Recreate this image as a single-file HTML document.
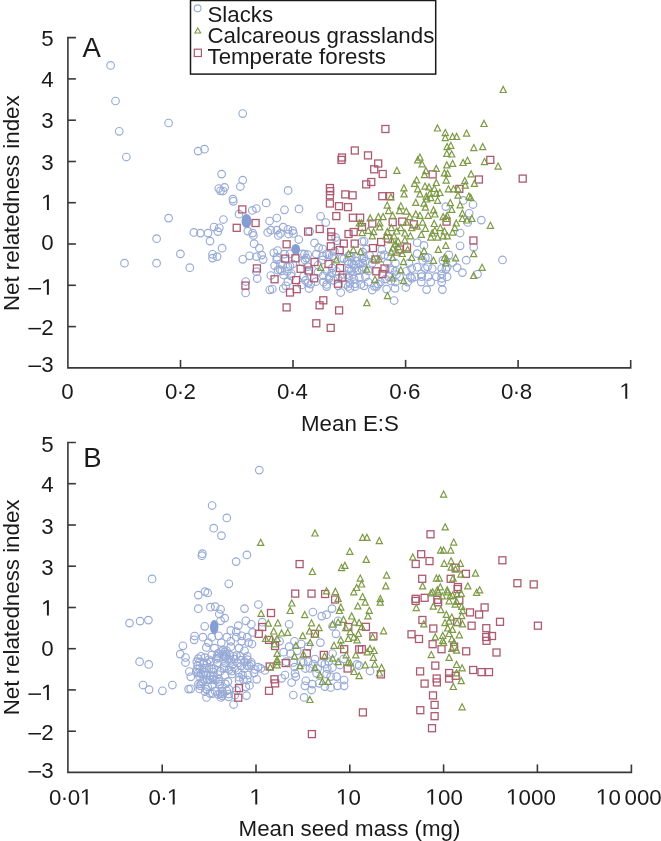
<!DOCTYPE html>
<html><head><meta charset="utf-8"><style>
html,body{margin:0;padding:0;background:#fff;}
svg{display:block;will-change:transform;filter:blur(0.4px);}
text{font-family:"Liberation Sans",sans-serif;font-size:22.3px;fill:#1a1a1a;}
.lg text{font-size:22.3px;}
</style></head><body>
<svg width="661" height="841" viewBox="0 0 661 841">
<g fill="none" stroke="#97a9d6" stroke-width="1.15">
<circle cx="110.6" cy="65.4" r="3.8"/><circle cx="115.5" cy="101.0" r="3.8"/><circle cx="119.2" cy="131.3" r="3.8"/><circle cx="126.3" cy="157.0" r="3.8"/><circle cx="168.6" cy="123.0" r="3.8"/><circle cx="242.7" cy="113.6" r="3.8"/><circle cx="198.1" cy="151.1" r="3.8"/><circle cx="204.5" cy="149.2" r="3.8"/><circle cx="221.6" cy="174.1" r="3.8"/><circle cx="218.8" cy="188.5" r="3.8"/><circle cx="224.6" cy="187.4" r="3.8"/><circle cx="242.7" cy="180.2" r="3.8"/><circle cx="240.3" cy="186.5" r="3.8"/><circle cx="232.9" cy="199.1" r="3.8"/><circle cx="168.6" cy="218.1" r="3.8"/><circle cx="156.6" cy="238.7" r="3.8"/><circle cx="180.4" cy="253.9" r="3.8"/><circle cx="124.5" cy="263.2" r="3.8"/><circle cx="156.6" cy="263.2" r="3.8"/><circle cx="189.8" cy="267.7" r="3.8"/><circle cx="220.5" cy="190.8" r="3.8"/><circle cx="223.0" cy="191.0" r="3.8"/><circle cx="233.3" cy="201.3" r="3.8"/><circle cx="266.2" cy="202.9" r="3.8"/><circle cx="256.4" cy="208.5" r="3.8"/><circle cx="252.3" cy="210.4" r="3.8"/><circle cx="239.0" cy="214.2" r="3.8"/><circle cx="223.4" cy="219.5" r="3.8"/><circle cx="269.6" cy="221.0" r="3.8"/><circle cx="276.8" cy="218.0" r="3.8"/><circle cx="214.0" cy="227.0" r="3.8"/><circle cx="219.3" cy="227.8" r="3.8"/><circle cx="217.8" cy="231.6" r="3.8"/><circle cx="193.9" cy="232.4" r="3.8"/><circle cx="200.4" cy="233.1" r="3.8"/><circle cx="208.0" cy="233.1" r="3.8"/><circle cx="210.0" cy="241.1" r="3.8"/><circle cx="247.8" cy="231.1" r="3.8"/><circle cx="252.6" cy="233.1" r="3.8"/><circle cx="253.4" cy="235.4" r="3.8"/><circle cx="270.8" cy="230.1" r="3.8"/><circle cx="267.7" cy="232.4" r="3.8"/><circle cx="276.8" cy="230.1" r="3.8"/><circle cx="278.3" cy="235.4" r="3.8"/><circle cx="254.1" cy="243.7" r="3.8"/><circle cx="259.4" cy="248.2" r="3.8"/><circle cx="222.1" cy="248.2" r="3.8"/><circle cx="212.5" cy="254.3" r="3.8"/><circle cx="217.1" cy="256.6" r="3.8"/><circle cx="212.5" cy="258.1" r="3.8"/><circle cx="242.8" cy="259.3" r="3.8"/><circle cx="249.6" cy="255.8" r="3.8"/><circle cx="256.4" cy="256.6" r="3.8"/><circle cx="261.7" cy="255.1" r="3.8"/><circle cx="263.2" cy="259.6" r="3.8"/><circle cx="273.8" cy="252.8" r="3.8"/><circle cx="277.6" cy="250.5" r="3.8"/><circle cx="276.8" cy="259.6" r="3.8"/><circle cx="274.6" cy="265.6" r="3.8"/><circle cx="256.4" cy="271.7" r="3.8"/><circle cx="257.2" cy="278.5" r="3.8"/><circle cx="270.8" cy="275.5" r="3.8"/><circle cx="278.0" cy="270.2" r="3.8"/><circle cx="245.8" cy="281.5" r="3.8"/><circle cx="272.3" cy="289.0" r="3.8"/><circle cx="245.6" cy="292.9" r="3.8"/><circle cx="269.8" cy="289.8" r="3.8"/><circle cx="288.1" cy="190.4" r="3.8"/><circle cx="284.5" cy="209.8" r="3.8"/><circle cx="299.0" cy="208.9" r="3.8"/><circle cx="320.6" cy="216.3" r="3.8"/><circle cx="325.7" cy="222.5" r="3.8"/><circle cx="283.2" cy="227.2" r="3.8"/><circle cx="287.9" cy="229.3" r="3.8"/><circle cx="292.7" cy="230.6" r="3.8"/><circle cx="280.4" cy="233.4" r="3.8"/><circle cx="288.6" cy="234.0" r="3.8"/><circle cx="293.4" cy="233.4" r="3.8"/><circle cx="309.7" cy="231.3" r="3.8"/><circle cx="298.8" cy="239.5" r="3.8"/><circle cx="314.5" cy="242.9" r="3.8"/><circle cx="335.6" cy="237.4" r="3.8"/><circle cx="337.0" cy="240.8" r="3.8"/><circle cx="362.1" cy="241.5" r="3.8"/><circle cx="318.6" cy="247.7" r="3.8"/><circle cx="322.7" cy="249.0" r="3.8"/><circle cx="302.2" cy="253.8" r="3.8"/><circle cx="307.7" cy="254.5" r="3.8"/><circle cx="326.7" cy="253.8" r="3.8"/><circle cx="332.2" cy="255.8" r="3.8"/><circle cx="277.0" cy="257.2" r="3.8"/><circle cx="290.0" cy="253.8" r="3.8"/><circle cx="305.0" cy="259.9" r="3.8"/><circle cx="322.7" cy="259.9" r="3.8"/><circle cx="343.8" cy="258.6" r="3.8"/><circle cx="351.3" cy="257.2" r="3.8"/><circle cx="356.7" cy="257.2" r="3.8"/><circle cx="362.1" cy="258.6" r="3.8"/><circle cx="280.4" cy="264.0" r="3.8"/><circle cx="287.9" cy="266.7" r="3.8"/><circle cx="292.7" cy="264.0" r="3.8"/><circle cx="307.7" cy="266.7" r="3.8"/><circle cx="326.7" cy="270.8" r="3.8"/><circle cx="332.2" cy="268.1" r="3.8"/><circle cx="348.5" cy="264.0" r="3.8"/><circle cx="354.0" cy="265.4" r="3.8"/><circle cx="359.4" cy="264.0" r="3.8"/><circle cx="351.3" cy="270.8" r="3.8"/><circle cx="356.7" cy="270.8" r="3.8"/><circle cx="362.1" cy="269.4" r="3.8"/><circle cx="281.8" cy="270.8" r="3.8"/><circle cx="291.3" cy="273.5" r="3.8"/><circle cx="303.6" cy="276.3" r="3.8"/><circle cx="323.3" cy="275.6" r="3.8"/><circle cx="329.5" cy="276.3" r="3.8"/><circle cx="333.6" cy="280.3" r="3.8"/><circle cx="348.5" cy="277.6" r="3.8"/><circle cx="354.0" cy="279.0" r="3.8"/><circle cx="359.4" cy="277.6" r="3.8"/><circle cx="287.9" cy="281.7" r="3.8"/><circle cx="307.7" cy="283.1" r="3.8"/><circle cx="315.8" cy="281.7" r="3.8"/><circle cx="326.7" cy="284.4" r="3.8"/><circle cx="345.8" cy="284.4" r="3.8"/><circle cx="355.3" cy="283.7" r="3.8"/><circle cx="360.8" cy="284.4" r="3.8"/><circle cx="283.2" cy="288.5" r="3.8"/><circle cx="309.0" cy="288.5" r="3.8"/><circle cx="349.9" cy="288.5" r="3.8"/><circle cx="364.1" cy="241.3" r="3.8"/><circle cx="417.2" cy="242.7" r="3.8"/><circle cx="424.0" cy="245.4" r="3.8"/><circle cx="445.8" cy="206.6" r="3.8"/><circle cx="362.7" cy="252.2" r="3.8"/><circle cx="381.8" cy="249.5" r="3.8"/><circle cx="364.1" cy="257.6" r="3.8"/><circle cx="369.5" cy="254.9" r="3.8"/><circle cx="384.5" cy="254.9" r="3.8"/><circle cx="417.2" cy="253.6" r="3.8"/><circle cx="428.1" cy="257.6" r="3.8"/><circle cx="422.6" cy="260.4" r="3.8"/><circle cx="362.7" cy="263.1" r="3.8"/><circle cx="372.3" cy="263.1" r="3.8"/><circle cx="387.2" cy="263.1" r="3.8"/><circle cx="395.4" cy="263.1" r="3.8"/><circle cx="409.0" cy="263.1" r="3.8"/><circle cx="417.2" cy="267.2" r="3.8"/><circle cx="425.4" cy="268.5" r="3.8"/><circle cx="432.2" cy="268.5" r="3.8"/><circle cx="441.7" cy="268.5" r="3.8"/><circle cx="447.1" cy="267.2" r="3.8"/><circle cx="390.0" cy="268.5" r="3.8"/><circle cx="395.4" cy="271.3" r="3.8"/><circle cx="406.3" cy="271.3" r="3.8"/><circle cx="411.7" cy="268.5" r="3.8"/><circle cx="421.3" cy="274.0" r="3.8"/><circle cx="428.1" cy="276.7" r="3.8"/><circle cx="436.3" cy="276.7" r="3.8"/><circle cx="441.7" cy="274.0" r="3.8"/><circle cx="447.1" cy="276.7" r="3.8"/><circle cx="365.4" cy="276.7" r="3.8"/><circle cx="388.6" cy="276.7" r="3.8"/><circle cx="399.5" cy="276.7" r="3.8"/><circle cx="410.4" cy="276.7" r="3.8"/><circle cx="368.2" cy="282.1" r="3.8"/><circle cx="380.4" cy="282.1" r="3.8"/><circle cx="395.4" cy="282.1" r="3.8"/><circle cx="407.7" cy="282.1" r="3.8"/><circle cx="421.3" cy="282.1" r="3.8"/><circle cx="430.8" cy="282.1" r="3.8"/><circle cx="441.7" cy="282.1" r="3.8"/><circle cx="463.2" cy="200.4" r="3.8"/><circle cx="473.0" cy="204.5" r="3.8"/><circle cx="469.2" cy="213.3" r="3.8"/><circle cx="467.7" cy="222.4" r="3.8"/><circle cx="481.3" cy="220.1" r="3.8"/><circle cx="460.1" cy="233.0" r="3.8"/><circle cx="460.1" cy="245.8" r="3.8"/><circle cx="473.7" cy="247.3" r="3.8"/><circle cx="466.2" cy="260.2" r="3.8"/><circle cx="502.5" cy="259.9" r="3.8"/><circle cx="448.8" cy="254.9" r="3.8"/><circle cx="452.6" cy="262.5" r="3.8"/><circle cx="457.1" cy="267.7" r="3.8"/><circle cx="462.4" cy="272.6" r="3.8"/><circle cx="477.5" cy="274.1" r="3.8"/><circle cx="445.8" cy="269.3" r="3.8"/><circle cx="285.8" cy="285.8" r="3.8"/><circle cx="310.8" cy="284.1" r="3.8"/><circle cx="326.6" cy="286.6" r="3.8"/><circle cx="340.7" cy="292.5" r="3.8"/><circle cx="354.9" cy="286.6" r="3.8"/><circle cx="364.0" cy="285.8" r="3.8"/><circle cx="372.3" cy="290.0" r="3.8"/><circle cx="376.5" cy="286.6" r="3.8"/><circle cx="349.9" cy="283.3" r="3.8"/><circle cx="386.6" cy="289.1" r="3.8"/><circle cx="395.0" cy="288.3" r="3.8"/><circle cx="405.8" cy="287.5" r="3.8"/><circle cx="394.1" cy="300.5" r="3.8"/><circle cx="426.6" cy="289.6" r="3.8"/><circle cx="442.4" cy="289.6" r="3.8"/><circle cx="421.6" cy="276.7" r="3.8"/><circle cx="441.6" cy="278.3" r="3.8"/><circle cx="411.6" cy="278.3" r="3.8"/><circle cx="378.3" cy="284.1" r="3.8"/><circle cx="304.5" cy="254.1" r="3.8"/><circle cx="306.3" cy="258.1" r="3.8"/><circle cx="302.7" cy="262.2" r="3.8"/><circle cx="316.3" cy="254.1" r="3.8"/><circle cx="322.7" cy="255.9" r="3.8"/><circle cx="329.0" cy="255.0" r="3.8"/><circle cx="334.5" cy="257.7" r="3.8"/><circle cx="282.7" cy="265.0" r="3.8"/><circle cx="290.0" cy="265.9" r="3.8"/><circle cx="287.3" cy="271.3" r="3.8"/><circle cx="283.6" cy="275.0" r="3.8"/><circle cx="290.9" cy="275.9" r="3.8"/><circle cx="305.4" cy="280.4" r="3.8"/><circle cx="308.1" cy="272.2" r="3.8"/><circle cx="318.1" cy="272.2" r="3.8"/><circle cx="331.7" cy="273.1" r="3.8"/><circle cx="336.3" cy="271.3" r="3.8"/><circle cx="323.6" cy="282.2" r="3.8"/><circle cx="329.0" cy="278.6" r="3.8"/><circle cx="301.8" cy="284.9" r="3.8"/><circle cx="338.1" cy="278.6" r="3.8"/><circle cx="338.1" cy="285.8" r="3.8"/><circle cx="280.0" cy="269.5" r="3.8"/><circle cx="284.5" cy="254.1" r="3.8"/><circle cx="318.1" cy="265.0" r="3.8"/><circle cx="334.5" cy="251.4" r="3.8"/><circle cx="347.3" cy="260.9" r="3.8"/><circle cx="351.8" cy="263.6" r="3.8"/><circle cx="356.4" cy="260.9" r="3.8"/><circle cx="365.5" cy="260.9" r="3.8"/><circle cx="349.1" cy="269.1" r="3.8"/><circle cx="354.5" cy="268.2" r="3.8"/><circle cx="359.1" cy="270.0" r="3.8"/><circle cx="363.6" cy="267.3" r="3.8"/><circle cx="368.2" cy="270.9" r="3.8"/><circle cx="347.3" cy="274.5" r="3.8"/><circle cx="352.7" cy="274.5" r="3.8"/><circle cx="348.2" cy="286.4" r="3.8"/><circle cx="374.5" cy="286.4" r="3.8"/><circle cx="390.9" cy="280.9" r="3.8"/><circle cx="385.5" cy="279.1" r="3.8"/><circle cx="380.9" cy="255.5" r="3.8"/><circle cx="388.2" cy="256.4" r="3.8"/><circle cx="392.7" cy="270.0" r="3.8"/><circle cx="396.4" cy="274.5" r="3.8"/><circle cx="366.4" cy="249.1" r="3.8"/><circle cx="349.1" cy="255.5" r="3.8"/><circle cx="341.8" cy="258.2" r="3.8"/><circle cx="342.7" cy="274.5" r="3.8"/><circle cx="442.9" cy="260.4" r="3.8"/><circle cx="427.5" cy="266.8" r="3.8"/><circle cx="414.8" cy="276.8" r="3.8"/><circle cx="425.4" cy="257.8" r="3.8"/><circle cx="212.1" cy="505.5" r="3.8"/><circle cx="226.8" cy="517.9" r="3.8"/><circle cx="213.7" cy="528.2" r="3.8"/><circle cx="221.5" cy="535.6" r="3.8"/><circle cx="202.3" cy="553.7" r="3.8"/><circle cx="201.9" cy="555.7" r="3.8"/><circle cx="152.1" cy="578.9" r="3.8"/><circle cx="228.8" cy="583.8" r="3.8"/><circle cx="259.3" cy="470.1" r="3.8"/><circle cx="246.9" cy="554.9" r="3.8"/><circle cx="236.1" cy="561.6" r="3.8"/><circle cx="210.2" cy="675.8" r="3.8"/><circle cx="217.8" cy="674.5" r="3.8"/><circle cx="206.0" cy="675.2" r="3.8"/><circle cx="213.1" cy="679.1" r="3.8"/><circle cx="204.5" cy="672.2" r="3.8"/><circle cx="204.5" cy="679.3" r="3.8"/><circle cx="214.1" cy="668.6" r="3.8"/><circle cx="218.7" cy="681.5" r="3.8"/><circle cx="213.5" cy="676.6" r="3.8"/><circle cx="205.5" cy="668.2" r="3.8"/><circle cx="211.5" cy="668.8" r="3.8"/><circle cx="203.5" cy="674.5" r="3.8"/><circle cx="210.0" cy="679.8" r="3.8"/><circle cx="129.5" cy="623.1" r="3.8"/><circle cx="140.1" cy="621.1" r="3.8"/><circle cx="148.4" cy="620.1" r="3.8"/><circle cx="198.3" cy="595.1" r="3.8"/><circle cx="198.3" cy="608.7" r="3.8"/><circle cx="194.6" cy="636.0" r="3.8"/><circle cx="194.1" cy="639.8" r="3.8"/><circle cx="182.9" cy="645.8" r="3.8"/><circle cx="180.2" cy="654.1" r="3.8"/><circle cx="185.5" cy="657.5" r="3.8"/><circle cx="185.5" cy="662.5" r="3.8"/><circle cx="139.6" cy="661.7" r="3.8"/><circle cx="148.7" cy="664.4" r="3.8"/><circle cx="189.3" cy="671.5" r="3.8"/><circle cx="198.3" cy="658.7" r="3.8"/><circle cx="196.8" cy="669.3" r="3.8"/><circle cx="190.8" cy="676.8" r="3.8"/><circle cx="205.0" cy="591.6" r="3.8"/><circle cx="207.7" cy="592.9" r="3.8"/><circle cx="210.4" cy="607.2" r="3.8"/><circle cx="215.2" cy="606.6" r="3.8"/><circle cx="220.6" cy="609.3" r="3.8"/><circle cx="219.3" cy="614.0" r="3.8"/><circle cx="224.7" cy="618.1" r="3.8"/><circle cx="220.6" cy="620.8" r="3.8"/><circle cx="244.5" cy="608.6" r="3.8"/><circle cx="258.4" cy="604.5" r="3.8"/><circle cx="262.2" cy="622.2" r="3.8"/><circle cx="245.8" cy="620.8" r="3.8"/><circle cx="251.3" cy="624.3" r="3.8"/><circle cx="238.3" cy="625.6" r="3.8"/><circle cx="204.7" cy="626.3" r="3.8"/><circle cx="230.8" cy="630.4" r="3.8"/><circle cx="236.3" cy="631.7" r="3.8"/><circle cx="252.6" cy="632.4" r="3.8"/><circle cx="202.9" cy="637.2" r="3.8"/><circle cx="211.8" cy="637.2" r="3.8"/><circle cx="218.6" cy="635.8" r="3.8"/><circle cx="226.8" cy="637.2" r="3.8"/><circle cx="236.3" cy="637.2" r="3.8"/><circle cx="241.7" cy="635.8" r="3.8"/><circle cx="247.2" cy="637.2" r="3.8"/><circle cx="208.4" cy="642.6" r="3.8"/><circle cx="221.3" cy="642.6" r="3.8"/><circle cx="230.8" cy="641.3" r="3.8"/><circle cx="241.7" cy="641.3" r="3.8"/><circle cx="248.6" cy="642.6" r="3.8"/><circle cx="206.3" cy="647.4" r="3.8"/><circle cx="214.5" cy="648.1" r="3.8"/><circle cx="230.8" cy="646.7" r="3.8"/><circle cx="239.0" cy="648.1" r="3.8"/><circle cx="244.5" cy="650.8" r="3.8"/><circle cx="200.9" cy="656.3" r="3.8"/><circle cx="211.8" cy="654.9" r="3.8"/><circle cx="217.2" cy="656.3" r="3.8"/><circle cx="233.6" cy="656.3" r="3.8"/><circle cx="240.4" cy="656.3" r="3.8"/><circle cx="247.2" cy="656.3" r="3.8"/><circle cx="196.8" cy="661.7" r="3.8"/><circle cx="203.6" cy="663.1" r="3.8"/><circle cx="210.4" cy="661.7" r="3.8"/><circle cx="217.2" cy="663.1" r="3.8"/><circle cx="225.4" cy="663.1" r="3.8"/><circle cx="230.8" cy="660.3" r="3.8"/><circle cx="237.7" cy="663.1" r="3.8"/><circle cx="244.5" cy="661.7" r="3.8"/><circle cx="251.3" cy="664.4" r="3.8"/><circle cx="258.1" cy="667.1" r="3.8"/><circle cx="199.5" cy="668.5" r="3.8"/><circle cx="209.1" cy="668.5" r="3.8"/><circle cx="224.0" cy="668.5" r="3.8"/><circle cx="234.9" cy="668.5" r="3.8"/><circle cx="244.5" cy="668.5" r="3.8"/><circle cx="252.0" cy="644.0" r="3.8"/><circle cx="223.0" cy="650.0" r="3.8"/><circle cx="224.5" cy="652.0" r="3.8"/><circle cx="226.0" cy="654.0" r="3.8"/><circle cx="224.0" cy="656.0" r="3.8"/><circle cx="226.5" cy="650.5" r="3.8"/><circle cx="222.5" cy="654.5" r="3.8"/><circle cx="225.5" cy="657.5" r="3.8"/><circle cx="221.5" cy="651.5" r="3.8"/><circle cx="143.0" cy="685.0" r="3.8"/><circle cx="149.1" cy="689.6" r="3.8"/><circle cx="162.4" cy="690.8" r="3.8"/><circle cx="172.4" cy="685.0" r="3.8"/><circle cx="188.6" cy="689.1" r="3.8"/><circle cx="206.5" cy="697.4" r="3.8"/><circle cx="209.9" cy="693.3" r="3.8"/><circle cx="222.3" cy="695.8" r="3.8"/><circle cx="190.7" cy="688.8" r="3.8"/><circle cx="212.5" cy="693.6" r="3.8"/><circle cx="233.6" cy="704.5" r="3.8"/><circle cx="246.5" cy="695.6" r="3.8"/><circle cx="245.8" cy="686.8" r="3.8"/><circle cx="256.7" cy="679.3" r="3.8"/><circle cx="260.8" cy="668.4" r="3.8"/><circle cx="264.9" cy="670.4" r="3.8"/><circle cx="251.3" cy="662.3" r="3.8"/><circle cx="202.3" cy="681.3" r="3.8"/><circle cx="207.7" cy="686.8" r="3.8"/><circle cx="226.8" cy="690.8" r="3.8"/><circle cx="254.0" cy="673.1" r="3.8"/><circle cx="247.2" cy="680.0" r="3.8"/><circle cx="239.0" cy="677.2" r="3.8"/><circle cx="216.1" cy="659.2" r="3.8"/><circle cx="236.4" cy="655.5" r="3.8"/><circle cx="229.2" cy="669.6" r="3.8"/><circle cx="199.6" cy="676.4" r="3.8"/><circle cx="198.3" cy="672.8" r="3.8"/><circle cx="222.3" cy="691.7" r="3.8"/><circle cx="231.8" cy="671.0" r="3.8"/><circle cx="249.2" cy="665.9" r="3.8"/><circle cx="204.9" cy="657.7" r="3.8"/><circle cx="215.1" cy="691.2" r="3.8"/><circle cx="207.2" cy="679.9" r="3.8"/><circle cx="230.0" cy="655.0" r="3.8"/><circle cx="199.7" cy="661.9" r="3.8"/><circle cx="238.2" cy="672.5" r="3.8"/><circle cx="215.5" cy="680.1" r="3.8"/><circle cx="224.1" cy="666.4" r="3.8"/><circle cx="228.6" cy="694.0" r="3.8"/><circle cx="241.2" cy="665.8" r="3.8"/><circle cx="221.9" cy="688.3" r="3.8"/><circle cx="198.4" cy="684.1" r="3.8"/><circle cx="243.4" cy="679.5" r="3.8"/><circle cx="239.1" cy="680.5" r="3.8"/><circle cx="232.0" cy="673.9" r="3.8"/><circle cx="225.4" cy="683.9" r="3.8"/><circle cx="199.8" cy="685.7" r="3.8"/><circle cx="247.0" cy="665.7" r="3.8"/><circle cx="219.9" cy="684.1" r="3.8"/><circle cx="199.7" cy="688.9" r="3.8"/><circle cx="220.2" cy="693.8" r="3.8"/><circle cx="201.0" cy="673.6" r="3.8"/><circle cx="213.3" cy="671.9" r="3.8"/><circle cx="218.2" cy="694.4" r="3.8"/><circle cx="206.9" cy="663.1" r="3.8"/><circle cx="232.5" cy="664.6" r="3.8"/><circle cx="196.3" cy="672.1" r="3.8"/><circle cx="218.9" cy="679.2" r="3.8"/><circle cx="228.0" cy="681.6" r="3.8"/><circle cx="220.3" cy="671.2" r="3.8"/><circle cx="208.9" cy="659.8" r="3.8"/><circle cx="202.3" cy="669.5" r="3.8"/><circle cx="234.1" cy="659.1" r="3.8"/><circle cx="218.6" cy="657.9" r="3.8"/><circle cx="224.9" cy="675.2" r="3.8"/><circle cx="247.4" cy="659.7" r="3.8"/><circle cx="228.8" cy="659.0" r="3.8"/><circle cx="249.5" cy="685.4" r="3.8"/><circle cx="206.4" cy="689.1" r="3.8"/><circle cx="229.0" cy="689.4" r="3.8"/><circle cx="218.0" cy="653.4" r="3.8"/><circle cx="197.7" cy="665.4" r="3.8"/><circle cx="212.1" cy="685.2" r="3.8"/><circle cx="255.2" cy="669.5" r="3.8"/><circle cx="234.7" cy="695.2" r="3.8"/><circle cx="248.1" cy="675.0" r="3.8"/><circle cx="236.5" cy="690.4" r="3.8"/><circle cx="201.3" cy="683.7" r="3.8"/><circle cx="242.5" cy="674.9" r="3.8"/><circle cx="220.9" cy="697.4" r="3.8"/><circle cx="240.9" cy="660.2" r="3.8"/><circle cx="205.1" cy="691.7" r="3.8"/><circle cx="228.6" cy="696.8" r="3.8"/><circle cx="222.9" cy="693.8" r="3.8"/><circle cx="312.9" cy="612.0" r="3.8"/><circle cx="321.7" cy="616.1" r="3.8"/><circle cx="326.5" cy="614.7" r="3.8"/><circle cx="332.0" cy="608.6" r="3.8"/><circle cx="289.1" cy="624.3" r="3.8"/><circle cx="332.6" cy="626.3" r="3.8"/><circle cx="338.1" cy="620.8" r="3.8"/><circle cx="336.0" cy="633.8" r="3.8"/><circle cx="279.5" cy="641.3" r="3.8"/><circle cx="294.5" cy="641.3" r="3.8"/><circle cx="301.3" cy="644.0" r="3.8"/><circle cx="320.4" cy="642.6" r="3.8"/><circle cx="289.1" cy="646.7" r="3.8"/><circle cx="283.6" cy="652.2" r="3.8"/><circle cx="290.4" cy="653.5" r="3.8"/><circle cx="297.2" cy="650.8" r="3.8"/><circle cx="308.1" cy="646.7" r="3.8"/><circle cx="332.6" cy="653.5" r="3.8"/><circle cx="343.5" cy="659.0" r="3.8"/><circle cx="286.3" cy="661.7" r="3.8"/><circle cx="301.3" cy="661.7" r="3.8"/><circle cx="308.1" cy="661.7" r="3.8"/><circle cx="314.9" cy="659.0" r="3.8"/><circle cx="321.7" cy="663.1" r="3.8"/><circle cx="328.6" cy="661.7" r="3.8"/><circle cx="357.1" cy="664.4" r="3.8"/><circle cx="294.5" cy="667.1" r="3.8"/><circle cx="305.4" cy="668.5" r="3.8"/><circle cx="317.7" cy="668.5" r="3.8"/><circle cx="327.2" cy="668.5" r="3.8"/><circle cx="359.1" cy="665.6" r="3.8"/><circle cx="370.0" cy="671.0" r="3.8"/><circle cx="293.3" cy="695.0" r="3.8"/><circle cx="304.1" cy="697.4" r="3.8"/><circle cx="291.6" cy="682.5" r="3.8"/><circle cx="304.9" cy="685.8" r="3.8"/><circle cx="311.6" cy="690.0" r="3.8"/><circle cx="312.4" cy="684.1" r="3.8"/><circle cx="319.1" cy="683.3" r="3.8"/><circle cx="324.9" cy="686.6" r="3.8"/><circle cx="330.7" cy="687.5" r="3.8"/><circle cx="337.4" cy="685.8" r="3.8"/><circle cx="344.1" cy="685.8" r="3.8"/><circle cx="344.1" cy="680.0" r="3.8"/><circle cx="336.6" cy="676.6" r="3.8"/><circle cx="330.7" cy="676.6" r="3.8"/><circle cx="326.6" cy="674.1" r="3.8"/><circle cx="316.6" cy="673.3" r="3.8"/><circle cx="309.9" cy="668.3" r="3.8"/><circle cx="295.0" cy="673.3" r="3.8"/><circle cx="295.8" cy="676.6" r="3.8"/><circle cx="285.0" cy="675.0" r="3.8"/><circle cx="281.6" cy="678.3" r="3.8"/><circle cx="305.8" cy="680.8" r="3.8"/><circle cx="332.4" cy="667.5" r="3.8"/><circle cx="324.9" cy="664.2" r="3.8"/><circle cx="313.3" cy="664.2" r="3.8"/><circle cx="303.3" cy="662.5" r="3.8"/><circle cx="293.3" cy="662.5" r="3.8"/><circle cx="339.9" cy="665.0" r="3.8"/>
</g>
<g fill="#849dd2" stroke="none">
<ellipse cx="246.5" cy="221" rx="5" ry="7"/><ellipse cx="295.7" cy="249.3" rx="4.4" ry="5.2"/><ellipse cx="214.2" cy="627.1" rx="4.3" ry="7.0"/>
</g>
<g fill="none" stroke="#ad5a70" stroke-width="1.3">
<rect x="238.8" y="205.9" width="7.0" height="7.0"/><rect x="233.2" y="224.3" width="7.0" height="7.0"/><rect x="252.1" y="219.5" width="7.0" height="7.0"/><rect x="253.4" y="264.9" width="7.0" height="7.0"/><rect x="271.1" y="275.8" width="7.0" height="7.0"/><rect x="241.9" y="282.1" width="7.0" height="7.0"/><rect x="338.0" y="156.4" width="7.0" height="7.0"/><rect x="326.7" y="187.7" width="7.0" height="7.0"/><rect x="351.3" y="147.0" width="7.0" height="7.0"/><rect x="338.5" y="154.0" width="7.0" height="7.0"/><rect x="364.5" y="151.9" width="7.0" height="7.0"/><rect x="326.4" y="184.5" width="7.0" height="7.0"/><rect x="326.4" y="191.8" width="7.0" height="7.0"/><rect x="326.4" y="200.0" width="7.0" height="7.0"/><rect x="341.8" y="190.9" width="7.0" height="7.0"/><rect x="349.1" y="191.8" width="7.0" height="7.0"/><rect x="335.5" y="202.7" width="7.0" height="7.0"/><rect x="344.5" y="203.6" width="7.0" height="7.0"/><rect x="362.7" y="180.9" width="7.0" height="7.0"/><rect x="381.9" y="125.5" width="7.0" height="7.0"/><rect x="374.7" y="160.0" width="7.0" height="7.0"/><rect x="370.7" y="165.8" width="7.0" height="7.0"/><rect x="379.2" y="170.5" width="7.0" height="7.0"/><rect x="367.8" y="178.5" width="7.0" height="7.0"/><rect x="378.8" y="192.7" width="7.0" height="7.0"/><rect x="386.5" y="192.7" width="7.0" height="7.0"/><rect x="429.1" y="170.9" width="7.0" height="7.0"/><rect x="455.8" y="185.4" width="7.0" height="7.0"/><rect x="475.4" y="176.0" width="7.0" height="7.0"/><rect x="486.8" y="156.4" width="7.0" height="7.0"/><rect x="519.2" y="175.1" width="7.0" height="7.0"/><rect x="332.8" y="212.6" width="7.0" height="7.0"/><rect x="349.4" y="214.2" width="7.0" height="7.0"/><rect x="356.6" y="214.2" width="7.0" height="7.0"/><rect x="316.2" y="225.5" width="7.0" height="7.0"/><rect x="304.6" y="228.1" width="7.0" height="7.0"/><rect x="327.7" y="228.5" width="7.0" height="7.0"/><rect x="327.7" y="233.0" width="7.0" height="7.0"/><rect x="345.0" y="230.5" width="7.0" height="7.0"/><rect x="350.2" y="228.5" width="7.0" height="7.0"/><rect x="283.1" y="240.8" width="7.0" height="7.0"/><rect x="327.3" y="242.8" width="7.0" height="7.0"/><rect x="340.3" y="240.1" width="7.0" height="7.0"/><rect x="351.2" y="240.1" width="7.0" height="7.0"/><rect x="336.2" y="246.6" width="7.0" height="7.0"/><rect x="281.7" y="255.1" width="7.0" height="7.0"/><rect x="291.9" y="254.8" width="7.0" height="7.0"/><rect x="311.0" y="258.5" width="7.0" height="7.0"/><rect x="325.0" y="260.5" width="7.0" height="7.0"/><rect x="297.1" y="265.3" width="7.0" height="7.0"/><rect x="305.5" y="267.0" width="7.0" height="7.0"/><rect x="336.6" y="264.6" width="7.0" height="7.0"/><rect x="292.6" y="276.6" width="7.0" height="7.0"/><rect x="310.7" y="274.8" width="7.0" height="7.0"/><rect x="338.9" y="274.1" width="7.0" height="7.0"/><rect x="334.5" y="280.2" width="7.0" height="7.0"/><rect x="293.3" y="285.7" width="7.0" height="7.0"/><rect x="368.8" y="220.1" width="7.0" height="7.0"/><rect x="389.2" y="218.7" width="7.0" height="7.0"/><rect x="398.7" y="218.1" width="7.0" height="7.0"/><rect x="410.3" y="220.8" width="7.0" height="7.0"/><rect x="443.0" y="218.1" width="7.0" height="7.0"/><rect x="377.6" y="238.5" width="7.0" height="7.0"/><rect x="384.4" y="235.1" width="7.0" height="7.0"/><rect x="369.4" y="244.6" width="7.0" height="7.0"/><rect x="403.5" y="243.9" width="7.0" height="7.0"/><rect x="396.0" y="246.0" width="7.0" height="7.0"/><rect x="372.8" y="267.8" width="7.0" height="7.0"/><rect x="381.0" y="265.0" width="7.0" height="7.0"/><rect x="379.0" y="270.5" width="7.0" height="7.0"/><rect x="358.5" y="223.5" width="7.0" height="7.0"/><rect x="469.9" y="237.0" width="7.0" height="7.0"/><rect x="286.5" y="289.0" width="7.0" height="7.0"/><rect x="283.1" y="303.9" width="7.0" height="7.0"/><rect x="319.8" y="296.8" width="7.0" height="7.0"/><rect x="316.1" y="301.8" width="7.0" height="7.0"/><rect x="335.6" y="306.9" width="7.0" height="7.0"/><rect x="312.8" y="319.8" width="7.0" height="7.0"/><rect x="327.2" y="324.4" width="7.0" height="7.0"/><rect x="372.0" y="256.0" width="7.0" height="7.0"/><rect x="296.1" y="560.6" width="7.0" height="7.0"/><rect x="427.0" y="530.8" width="7.0" height="7.0"/><rect x="417.7" y="550.7" width="7.0" height="7.0"/><rect x="426.0" y="557.6" width="7.0" height="7.0"/><rect x="412.2" y="560.5" width="7.0" height="7.0"/><rect x="418.7" y="575.3" width="7.0" height="7.0"/><rect x="452.1" y="564.2" width="7.0" height="7.0"/><rect x="447.2" y="575.3" width="7.0" height="7.0"/><rect x="462.4" y="570.3" width="7.0" height="7.0"/><rect x="454.5" y="583.5" width="7.0" height="7.0"/><rect x="454.1" y="585.5" width="7.0" height="7.0"/><rect x="412.2" y="595.3" width="7.0" height="7.0"/><rect x="421.1" y="594.3" width="7.0" height="7.0"/><rect x="433.8" y="596.3" width="7.0" height="7.0"/><rect x="498.9" y="556.8" width="7.0" height="7.0"/><rect x="513.9" y="579.7" width="7.0" height="7.0"/><rect x="530.2" y="580.9" width="7.0" height="7.0"/><rect x="481.1" y="603.9" width="7.0" height="7.0"/><rect x="466.5" y="608.9" width="7.0" height="7.0"/><rect x="475.6" y="611.0" width="7.0" height="7.0"/><rect x="496.5" y="618.3" width="7.0" height="7.0"/><rect x="468.1" y="622.2" width="7.0" height="7.0"/><rect x="482.8" y="624.7" width="7.0" height="7.0"/><rect x="534.4" y="622.2" width="7.0" height="7.0"/><rect x="267.5" y="609.5" width="7.0" height="7.0"/><rect x="258.7" y="623.5" width="7.0" height="7.0"/><rect x="255.3" y="630.3" width="7.0" height="7.0"/><rect x="265.5" y="636.4" width="7.0" height="7.0"/><rect x="271.6" y="642.5" width="7.0" height="7.0"/><rect x="266.2" y="663.0" width="7.0" height="7.0"/><rect x="235.5" y="684.6" width="7.0" height="7.0"/><rect x="234.8" y="694.2" width="7.0" height="7.0"/><rect x="270.9" y="675.8" width="7.0" height="7.0"/><rect x="271.6" y="679.9" width="7.0" height="7.0"/><rect x="265.5" y="687.3" width="7.0" height="7.0"/><rect x="291.7" y="590.1" width="7.0" height="7.0"/><rect x="308.0" y="590.1" width="7.0" height="7.0"/><rect x="321.6" y="590.5" width="7.0" height="7.0"/><rect x="331.6" y="596.0" width="7.0" height="7.0"/><rect x="311.4" y="630.3" width="7.0" height="7.0"/><rect x="344.8" y="623.5" width="7.0" height="7.0"/><rect x="303.3" y="649.8" width="7.0" height="7.0"/><rect x="320.3" y="651.4" width="7.0" height="7.0"/><rect x="340.7" y="645.7" width="7.0" height="7.0"/><rect x="355.7" y="645.9" width="7.0" height="7.0"/><rect x="282.2" y="659.6" width="7.0" height="7.0"/><rect x="344.1" y="665.0" width="7.0" height="7.0"/><rect x="412.1" y="597.4" width="7.0" height="7.0"/><rect x="434.6" y="598.8" width="7.0" height="7.0"/><rect x="418.9" y="616.5" width="7.0" height="7.0"/><rect x="429.8" y="625.0" width="7.0" height="7.0"/><rect x="408.0" y="630.8" width="7.0" height="7.0"/><rect x="415.5" y="635.5" width="7.0" height="7.0"/><rect x="429.1" y="640.7" width="7.0" height="7.0"/><rect x="438.0" y="645.7" width="7.0" height="7.0"/><rect x="431.8" y="662.1" width="7.0" height="7.0"/><rect x="416.6" y="667.9" width="7.0" height="7.0"/><rect x="362.4" y="623.3" width="7.0" height="7.0"/><rect x="369.9" y="632.8" width="7.0" height="7.0"/><rect x="358.3" y="645.7" width="7.0" height="7.0"/><rect x="377.4" y="670.9" width="7.0" height="7.0"/><rect x="433.2" y="675.0" width="7.0" height="7.0"/><rect x="359.4" y="708.9" width="7.0" height="7.0"/><rect x="308.4" y="730.6" width="7.0" height="7.0"/><rect x="450.6" y="643.2" width="7.0" height="7.0"/><rect x="462.7" y="647.8" width="7.0" height="7.0"/><rect x="483.0" y="637.3" width="7.0" height="7.0"/><rect x="493.0" y="649.0" width="7.0" height="7.0"/><rect x="421.1" y="680.1" width="7.0" height="7.0"/><rect x="433.4" y="678.9" width="7.0" height="7.0"/><rect x="445.6" y="669.5" width="7.0" height="7.0"/><rect x="445.6" y="675.1" width="7.0" height="7.0"/><rect x="452.2" y="672.3" width="7.0" height="7.0"/><rect x="469.7" y="666.5" width="7.0" height="7.0"/><rect x="478.0" y="668.6" width="7.0" height="7.0"/><rect x="485.5" y="668.6" width="7.0" height="7.0"/><rect x="429.5" y="691.9" width="7.0" height="7.0"/><rect x="431.1" y="701.4" width="7.0" height="7.0"/><rect x="416.8" y="706.7" width="7.0" height="7.0"/><rect x="431.1" y="712.7" width="7.0" height="7.0"/><rect x="428.5" y="724.7" width="7.0" height="7.0"/><rect x="455.8" y="596.7" width="7.0" height="7.0"/><rect x="482.7" y="633.5" width="7.0" height="7.0"/><rect x="488.5" y="632.5" width="7.0" height="7.0"/><rect x="453.7" y="618.5" width="7.0" height="7.0"/>
</g>
<g fill="none" stroke="#7d9a45" stroke-width="1.2" stroke-linejoin="miter">
<path d="M437.5,124.9L440.6,131.0H434.4Z"/><path d="M445.3,129.5L448.4,135.6H442.2Z"/><path d="M445.3,134.5L448.4,140.6H442.2Z"/><path d="M452.6,133.4L455.7,139.5H449.5Z"/><path d="M456.6,133.4L459.7,139.5H453.5Z"/><path d="M466.6,130.0L469.7,136.1H463.5Z"/><path d="M447.1,143.6L450.2,149.7H444.0Z"/><path d="M450.8,142.2L453.9,148.3H447.7Z"/><path d="M473.8,144.5L476.9,150.6H470.7Z"/><path d="M446.8,150.3L449.9,156.4H443.7Z"/><path d="M451.7,150.9L454.8,157.0H448.6Z"/><path d="M419.9,154.0L423.0,160.1H416.8Z"/><path d="M417.7,156.7L420.8,162.8H414.6Z"/><path d="M422.1,160.7L425.2,166.8H419.0Z"/><path d="M446.8,161.8L449.9,167.9H443.7Z"/><path d="M452.6,160.3L455.7,166.4H449.5Z"/><path d="M463.1,159.4L466.2,165.5H460.0Z"/><path d="M467.5,157.2L470.6,163.3H464.4Z"/><path d="M396.9,167.2L400.0,173.3H393.8Z"/><path d="M425.9,167.6L429.0,173.7H422.8Z"/><path d="M436.3,165.4L439.4,171.5H433.2Z"/><path d="M424.5,171.6L427.6,177.7H421.4Z"/><path d="M444.4,169.8L447.5,175.9H441.3Z"/><path d="M447.5,170.3L450.6,176.4H444.4Z"/><path d="M471.1,170.8L474.2,176.9H468.0Z"/><path d="M416.6,176.7L419.7,182.8H413.5Z"/><path d="M414.5,180.3L417.6,186.4H411.4Z"/><path d="M436.3,179.4L439.4,185.5H433.2Z"/><path d="M446.2,177.0L449.3,183.1H443.1Z"/><path d="M464.8,177.6L467.9,183.7H461.7Z"/><path d="M465.3,182.1L468.4,188.2H462.2Z"/><path d="M474.4,180.3L477.5,186.4H471.3Z"/><path d="M403.9,184.8L407.0,190.9H400.8Z"/><path d="M404.1,190.8L407.2,196.9H401.0Z"/><path d="M417.7,185.7L420.8,191.8H414.6Z"/><path d="M425.0,183.0L428.1,189.1H421.9Z"/><path d="M429.0,183.9L432.1,190.0H425.9Z"/><path d="M434.4,185.4L437.5,191.5H431.3Z"/><path d="M419.9,190.8L423.0,196.9H416.8Z"/><path d="M426.3,193.0L429.4,199.1H423.2Z"/><path d="M429.9,190.3L433.0,196.4H426.8Z"/><path d="M436.3,190.3L439.4,196.4H433.2Z"/><path d="M439.9,189.4L443.0,195.5H436.8Z"/><path d="M448.4,185.7L451.5,191.8H445.3Z"/><path d="M453.5,185.7L456.6,191.8H450.4Z"/><path d="M458.0,185.7L461.1,191.8H454.9Z"/><path d="M458.0,192.1L461.1,198.2H454.9Z"/><path d="M468.9,193.0L472.0,199.1H465.8Z"/><path d="M390.9,193.9L394.0,200.0H387.8Z"/><path d="M503.2,86.4L506.3,92.5H500.1Z"/><path d="M484.0,120.4L487.1,126.5H480.9Z"/><path d="M482.7,143.6L485.8,149.7H479.6Z"/><path d="M484.5,158.5L487.6,164.6H481.4Z"/><path d="M498.1,163.0L501.2,169.1H495.0Z"/><path d="M359.4,219.9L362.5,226.0H356.3Z"/><path d="M362.1,229.5L365.2,235.6H359.0Z"/><path d="M348.5,250.6L351.6,256.7H345.4Z"/><path d="M353.3,246.5L356.4,252.6H350.2Z"/><path d="M360.5,248.5L363.6,254.6H357.4Z"/><path d="M336.3,256.7L339.4,262.8H333.2Z"/><path d="M320.6,264.2L323.7,270.3H317.5Z"/><path d="M415.8,199.3L418.9,205.4H412.7Z"/><path d="M426.7,195.9L429.8,202.0H423.6Z"/><path d="M424.0,200.0L427.1,206.1H420.9Z"/><path d="M430.8,194.5L433.9,200.6H427.7Z"/><path d="M437.6,197.2L440.7,203.3H434.5Z"/><path d="M387.2,202.0L390.3,208.1H384.1Z"/><path d="M400.8,202.7L403.9,208.8H397.7Z"/><path d="M388.6,207.5L391.7,213.6H385.5Z"/><path d="M399.5,207.5L402.6,213.6H396.4Z"/><path d="M406.3,208.1L409.4,214.2H403.2Z"/><path d="M425.4,204.1L428.5,210.2H422.3Z"/><path d="M433.5,206.8L436.6,212.9H430.4Z"/><path d="M434.9,210.9L438.0,217.0H431.8Z"/><path d="M415.8,210.9L418.9,217.0H412.7Z"/><path d="M419.9,212.2L423.0,218.3H416.8Z"/><path d="M370.2,214.9L373.3,221.0H367.1Z"/><path d="M378.4,213.6L381.5,219.7H375.3Z"/><path d="M383.1,213.6L386.2,219.7H380.0Z"/><path d="M392.7,212.2L395.8,218.3H389.6Z"/><path d="M409.7,213.6L412.8,219.7H406.6Z"/><path d="M428.1,212.2L431.2,218.3H425.0Z"/><path d="M443.1,213.6L446.2,219.7H440.0Z"/><path d="M447.1,212.2L450.2,218.3H444.0Z"/><path d="M361.4,219.7L364.5,225.8H358.3Z"/><path d="M379.7,219.7L382.8,225.8H376.6Z"/><path d="M406.3,219.0L409.4,225.1H403.2Z"/><path d="M422.6,219.0L425.7,225.1H419.5Z"/><path d="M434.2,220.4L437.3,226.5H431.1Z"/><path d="M379.7,223.8L382.8,229.9H376.6Z"/><path d="M391.3,224.5L394.4,230.6H388.2Z"/><path d="M400.8,224.5L403.9,230.6H397.7Z"/><path d="M411.7,224.5L414.8,230.6H408.6Z"/><path d="M417.2,223.1L420.3,229.2H414.1Z"/><path d="M425.4,225.2L428.5,231.3H422.3Z"/><path d="M440.3,224.5L443.4,230.6H437.2Z"/><path d="M368.2,227.2L371.3,233.3H365.1Z"/><path d="M373.6,228.6L376.7,234.7H370.5Z"/><path d="M387.2,228.6L390.3,234.7H384.1Z"/><path d="M396.8,227.9L399.9,234.0H393.7Z"/><path d="M404.9,229.9L408.0,236.0H401.8Z"/><path d="M421.3,231.3L424.4,237.4H418.2Z"/><path d="M432.2,229.9L435.3,236.0H429.1Z"/><path d="M434.9,227.2L438.0,233.3H431.8Z"/><path d="M444.4,227.9L447.5,234.0H441.3Z"/><path d="M372.3,232.7L375.4,238.8H369.2Z"/><path d="M385.9,232.7L389.0,238.8H382.8Z"/><path d="M394.0,232.7L397.1,238.8H390.9Z"/><path d="M410.4,232.7L413.5,238.8H407.3Z"/><path d="M430.8,234.0L433.9,240.1H427.7Z"/><path d="M437.6,234.0L440.7,240.1H434.5Z"/><path d="M443.1,232.7L446.2,238.8H440.0Z"/><path d="M391.3,236.7L394.4,242.8H388.2Z"/><path d="M398.1,238.1L401.2,244.2H395.0Z"/><path d="M404.9,236.7L408.0,242.8H401.8Z"/><path d="M395.4,240.8L398.5,246.9H392.3Z"/><path d="M392.7,244.9L395.8,251.0H389.6Z"/><path d="M398.1,243.5L401.2,249.6H395.0Z"/><path d="M407.7,246.3L410.8,252.4H404.6Z"/><path d="M438.3,246.3L441.4,252.4H435.2Z"/><path d="M445.8,242.2L448.9,248.3H442.7Z"/><path d="M391.3,249.0L394.4,255.1H388.2Z"/><path d="M396.8,249.0L399.9,255.1H393.7Z"/><path d="M402.2,250.4L405.3,256.5H399.1Z"/><path d="M424.0,247.6L427.1,253.7H420.9Z"/><path d="M421.3,253.1L424.4,259.2H418.2Z"/><path d="M392.7,254.4L395.8,260.5H389.6Z"/><path d="M411.7,254.4L414.8,260.5H408.6Z"/><path d="M433.5,257.2L436.6,263.3H430.4Z"/><path d="M444.4,254.4L447.5,260.5H441.3Z"/><path d="M445.8,259.9L448.9,266.0H442.7Z"/><path d="M403.6,258.5L406.7,264.6H400.5Z"/><path d="M373.6,255.8L376.7,261.9H370.5Z"/><path d="M379.1,255.8L382.2,261.9H376.0Z"/><path d="M400.8,266.7L403.9,272.8H397.7Z"/><path d="M366.8,266.0L369.9,272.1H363.7Z"/><path d="M392.7,274.9L395.8,281.0H389.6Z"/><path d="M403.6,277.6L406.7,283.7H400.5Z"/><path d="M375.0,276.2L378.1,282.3H371.9Z"/><path d="M470.7,194.2L473.8,200.3H467.6Z"/><path d="M450.3,199.5L453.4,205.6H447.2Z"/><path d="M460.1,201.8L463.2,207.9H457.0Z"/><path d="M451.8,206.3L454.9,212.4H448.7Z"/><path d="M462.4,210.1L465.5,216.2H459.3Z"/><path d="M462.4,215.4L465.5,221.5H459.3Z"/><path d="M466.9,216.9L470.0,223.0H463.8Z"/><path d="M471.9,215.4L475.0,221.5H468.8Z"/><path d="M446.5,215.4L449.6,221.5H443.4Z"/><path d="M456.3,219.9L459.4,226.0H453.2Z"/><path d="M454.8,224.5L457.9,230.6H451.7Z"/><path d="M452.6,229.0L455.7,235.1H449.5Z"/><path d="M447.3,232.8L450.4,238.9H444.2Z"/><path d="M490.4,222.2L493.5,228.3H487.3Z"/><path d="M473.7,250.6L476.8,256.7H470.6Z"/><path d="M455.6,254.7L458.7,260.8H452.5Z"/><path d="M446.5,255.5L449.6,261.6H443.4Z"/><path d="M482.1,264.2L485.2,270.3H479.0Z"/><path d="M473.7,272.4L476.8,278.5H470.6Z"/><path d="M366.9,299.6L370.0,305.7H363.8Z"/><path d="M387.5,292.6L390.6,298.7H384.4Z"/><path d="M260.7,539.3L263.8,545.4H257.6Z"/><path d="M315.0,529.9L318.1,536.0H311.9Z"/><path d="M312.4,568.4L315.5,574.5H309.3Z"/><path d="M341.5,564.5L344.6,570.6H338.4Z"/><path d="M344.9,562.3L348.0,568.4H341.8Z"/><path d="M349.8,548.2L352.9,554.3H346.7Z"/><path d="M443.6,491.0L446.7,497.1H440.5Z"/><path d="M445.2,523.8L448.3,529.9H442.1Z"/><path d="M362.6,534.3L365.7,540.4H359.5Z"/><path d="M366.9,534.3L370.0,540.4H363.8Z"/><path d="M379.3,537.6L382.4,543.7H376.2Z"/><path d="M366.2,556.3L369.3,562.4H363.1Z"/><path d="M453.7,539.0L456.8,545.1H450.6Z"/><path d="M440.7,547.0L443.8,553.1H437.6Z"/><path d="M443.6,547.0L446.7,553.1H440.5Z"/><path d="M450.7,547.0L453.8,553.1H447.6Z"/><path d="M412.8,553.9L415.9,560.0H409.7Z"/><path d="M444.2,560.2L447.3,566.3H441.1Z"/><path d="M451.1,557.7L454.2,563.8H448.0Z"/><path d="M460.4,560.2L463.5,566.3H457.3Z"/><path d="M451.1,564.1L454.2,570.2H448.0Z"/><path d="M455.4,566.1L458.5,572.2H452.3Z"/><path d="M386.6,572.0L389.7,578.1H383.5Z"/><path d="M360.3,575.0L363.4,581.1H357.2Z"/><path d="M361.6,580.9L364.7,587.0H358.5Z"/><path d="M356.7,584.4L359.8,590.5H353.6Z"/><path d="M353.8,588.7L356.9,594.8H350.7Z"/><path d="M385.8,582.8L388.9,588.9H382.7Z"/><path d="M362.6,593.6L365.7,599.7H359.5Z"/><path d="M436.4,575.0L439.5,581.1H433.3Z"/><path d="M439.3,575.0L442.4,581.1H436.2Z"/><path d="M422.6,582.8L425.7,588.9H419.5Z"/><path d="M430.9,589.7L434.0,595.8H427.8Z"/><path d="M437.3,586.8L440.4,592.9H434.2Z"/><path d="M440.3,583.8L443.4,589.9H437.2Z"/><path d="M447.2,586.8L450.3,592.9H444.1Z"/><path d="M453.1,575.0L456.2,581.1H450.0Z"/><path d="M460.9,571.0L464.0,577.1H457.8Z"/><path d="M467.8,582.8L470.9,588.9H464.7Z"/><path d="M442.3,592.7L445.4,598.8H439.2Z"/><path d="M450.1,592.7L453.2,598.8H447.0Z"/><path d="M457.0,591.1L460.1,597.2H453.9Z"/><path d="M380.3,595.6L383.4,601.7H377.2Z"/><path d="M475.5,570.1L478.6,576.2H472.4Z"/><path d="M476.6,589.2L479.7,595.3H473.5Z"/><path d="M479.6,586.7L482.7,592.8H476.5Z"/><path d="M461.7,603.3L464.8,609.4H458.6Z"/><path d="M462.5,607.5L465.6,613.6H459.4Z"/><path d="M461.7,612.5L464.8,618.6H458.6Z"/><path d="M462.5,620.8L465.6,626.9H459.4Z"/><path d="M261.1,610.2L264.2,616.3H258.0Z"/><path d="M268.3,620.1L271.4,626.2H265.2Z"/><path d="M277.8,619.7L280.9,625.8H274.7Z"/><path d="M273.7,627.9L276.8,634.0H270.6Z"/><path d="M265.6,635.4L268.7,641.5H262.5Z"/><path d="M271.7,635.4L274.8,641.5H268.6Z"/><path d="M277.1,635.4L280.2,641.5H274.0Z"/><path d="M274.4,640.8L277.5,646.9H271.3Z"/><path d="M277.1,650.3L280.2,656.4H274.0Z"/><path d="M277.1,658.5L280.2,664.6H274.0Z"/><path d="M270.3,663.9L273.4,670.0H267.2Z"/><path d="M277.1,656.3L280.2,662.4H274.0Z"/><path d="M277.1,661.8L280.2,667.9H274.0Z"/><path d="M291.8,599.9L294.9,606.0H288.7Z"/><path d="M290.2,607.4L293.3,613.5H287.1Z"/><path d="M304.7,611.5L307.8,617.6H301.6Z"/><path d="M326.5,587.7L329.6,593.8H323.4Z"/><path d="M335.4,588.4L338.5,594.5H332.3Z"/><path d="M338.1,595.2L341.2,601.3H335.0Z"/><path d="M340.8,604.0L343.9,610.1H337.7Z"/><path d="M339.4,607.4L342.5,613.5H336.3Z"/><path d="M357.8,602.7L360.9,608.8H354.7Z"/><path d="M281.6,629.9L284.7,636.0H278.5Z"/><path d="M287.7,629.2L290.8,635.3H284.6Z"/><path d="M302.7,632.6L305.8,638.7H299.6Z"/><path d="M311.5,619.7L314.6,625.8H308.4Z"/><path d="M319.0,624.5L322.1,630.6H315.9Z"/><path d="M309.5,627.9L312.6,634.0H306.4Z"/><path d="M315.6,631.3L318.7,637.4H312.5Z"/><path d="M332.6,621.1L335.7,627.2H329.5Z"/><path d="M338.1,619.0L341.2,625.1H335.0Z"/><path d="M343.5,616.3L346.6,622.4H340.4Z"/><path d="M351.7,612.9L354.8,619.0H348.6Z"/><path d="M354.4,619.0L357.5,625.1H351.3Z"/><path d="M345.6,624.5L348.7,630.6H342.5Z"/><path d="M350.3,628.5L353.4,634.6H347.2Z"/><path d="M353.7,634.0L356.8,640.1H350.6Z"/><path d="M348.3,635.4L351.4,641.5H345.2Z"/><path d="M340.8,636.7L343.9,642.8H337.7Z"/><path d="M357.1,636.7L360.2,642.8H354.0Z"/><path d="M334.0,642.2L337.1,648.3H330.9Z"/><path d="M340.8,642.2L343.9,648.3H337.7Z"/><path d="M295.9,642.2L299.0,648.3H292.8Z"/><path d="M310.2,639.4L313.3,645.5H307.1Z"/><path d="M294.5,653.1L297.6,659.2H291.4Z"/><path d="M303.4,651.0L306.5,657.1H300.3Z"/><path d="M324.5,653.1L327.6,659.2H321.4Z"/><path d="M332.6,655.1L335.7,661.2H329.5Z"/><path d="M346.3,651.7L349.4,657.8H343.2Z"/><path d="M355.8,651.7L358.9,657.8H352.7Z"/><path d="M338.1,658.5L341.2,664.6H335.0Z"/><path d="M350.3,659.9L353.4,666.0H347.2Z"/><path d="M300.0,662.6L303.1,668.7H296.9Z"/><path d="M365.2,599.1L368.3,605.2H362.1Z"/><path d="M380.2,599.1L383.3,605.2H377.1Z"/><path d="M369.3,607.2L372.4,613.3H366.2Z"/><path d="M367.9,612.7L371.0,618.8H364.8Z"/><path d="M359.1,619.5L362.2,625.6H356.0Z"/><path d="M361.8,623.6L364.9,629.7H358.7Z"/><path d="M383.6,627.7L386.7,633.8H380.5Z"/><path d="M358.4,630.4L361.5,636.5H355.3Z"/><path d="M372.7,633.8L375.8,639.9H369.6Z"/><path d="M370.0,645.4L373.1,651.5H366.9Z"/><path d="M374.1,647.4L377.2,653.5H371.0Z"/><path d="M367.3,648.8L370.4,654.9H364.2Z"/><path d="M373.4,654.2L376.5,660.3H370.3Z"/><path d="M374.7,661.0L377.8,667.1H371.6Z"/><path d="M365.2,661.7L368.3,667.8H362.1Z"/><path d="M381.6,664.4L384.7,670.5H378.5Z"/><path d="M379.5,669.9L382.6,676.0H376.4Z"/><path d="M359.1,672.6L362.2,678.7H356.0Z"/><path d="M416.3,604.5L419.4,610.6H413.2Z"/><path d="M433.3,603.1L436.4,609.2H430.2Z"/><path d="M440.8,606.5L443.9,612.6H437.7Z"/><path d="M423.8,620.8L426.9,626.9H420.7Z"/><path d="M435.3,633.8L438.4,639.9H432.2Z"/><path d="M442.8,632.4L445.9,638.5H439.7Z"/><path d="M442.8,637.2L445.9,643.3H439.7Z"/><path d="M431.3,651.5L434.4,657.6H428.2Z"/><path d="M309.9,696.4L313.0,702.5H306.8Z"/><path d="M354.0,668.4L357.1,674.5H350.9Z"/><path d="M314.9,664.3L318.0,670.4H311.8Z"/><path d="M319.9,671.8L323.0,677.9H316.8Z"/><path d="M322.4,678.4L325.5,684.5H319.3Z"/><path d="M328.2,678.4L331.3,684.5H325.1Z"/><path d="M348.2,659.3L351.3,665.4H345.1Z"/><path d="M449.1,654.3L452.2,660.4H446.0Z"/><path d="M456.6,661.4L459.7,667.5H453.5Z"/><path d="M462.1,664.8L465.2,670.9H459.0Z"/><path d="M456.6,669.8L459.7,675.9H453.5Z"/><path d="M461.2,677.6L464.3,683.7H458.1Z"/><path d="M453.3,683.4L456.4,689.5H450.2Z"/><path d="M462.1,703.7L465.2,709.8H459.0Z"/><path d="M443.6,639.3L446.7,645.4H440.5Z"/><path d="M454.1,639.3L457.2,645.4H451.0Z"/><path d="M456.6,647.1L459.7,653.2H453.5Z"/><path d="M432.7,588.8L435.8,594.9H429.6Z"/><path d="M438.2,588.8L441.3,594.9H435.1Z"/><path d="M447.7,588.8L450.8,594.9H444.6Z"/><path d="M452.5,592.2L455.6,598.3H449.4Z"/><path d="M461.3,590.2L464.4,596.3H458.2Z"/><path d="M449.1,597.7L452.2,603.8H446.0Z"/><path d="M456.6,598.4L459.7,604.5H453.5Z"/><path d="M455.2,601.1L458.3,607.2H452.1Z"/><path d="M446.3,611.3L449.4,617.4H443.2Z"/><path d="M451.8,614.0L454.9,620.1H448.7Z"/><path d="M445.0,619.5L448.1,625.6H441.9Z"/><path d="M449.1,618.1L452.2,624.2H446.0Z"/><path d="M457.2,619.5L460.3,625.6H454.1Z"/><path d="M447.7,624.9L450.8,631.0H444.6Z"/><path d="M452.5,626.3L455.6,632.4H449.4Z"/><path d="M449.1,630.4L452.2,636.5H446.0Z"/><path d="M459.3,631.7L462.4,637.8H456.2Z"/><path d="M451.8,635.8L454.9,641.9H448.7Z"/><path d="M451.8,645.4L454.9,651.5H448.7Z"/>
</g>
<g fill="none" stroke="#383838" stroke-width="1.6">
<path d="M75.9,37.6 H67.9 V367.9 H630.7 V359.9"/>
<path d="M67.9,78.9 H75.9"/>
<path d="M67.9,120.2 H75.9"/>
<path d="M67.9,161.5 H75.9"/>
<path d="M67.9,202.7 H75.9"/>
<path d="M67.9,244.0 H75.9"/>
<path d="M67.9,285.3 H75.9"/>
<path d="M67.9,326.6 H75.9"/>
<path d="M180.5,367.9 V359.9"/>
<path d="M293.0,367.9 V359.9"/>
<path d="M405.6,367.9 V359.9"/>
<path d="M518.1,367.9 V359.9"/>
<path d="M75.9,442.5 H67.9 V772.4 H631.4 V764.4"/>
<path d="M67.9,483.7 H75.9"/>
<path d="M67.9,525.0 H75.9"/>
<path d="M67.9,566.2 H75.9"/>
<path d="M67.9,607.5 H75.9"/>
<path d="M67.9,648.7 H75.9"/>
<path d="M67.9,689.9 H75.9"/>
<path d="M67.9,731.2 H75.9"/>
<path d="M162.2,772.4 V764.4"/>
<path d="M256.0,772.4 V764.4"/>
<path d="M349.8,772.4 V764.4"/>
<path d="M443.6,772.4 V764.4"/>
<path d="M537.4,772.4 V764.4"/>
</g>
<g fill="#1a1a1a">
<text x="41.30" y="46.30">5</text>
<text x="41.30" y="86.60">4</text>
<text x="41.30" y="128.30">3</text>
<text x="41.30" y="169.50">3</text>
<polygon points="46.91,210.00 46.91,196.53 43.20,199.06 43.20,197.15 47.07,194.66 48.88,194.66 48.88,210.00"/>
<text x="41.30" y="250.30">0</text>
<rect x="28.39" y="288.00" width="12.60" height="1.5"/><polygon points="46.91,294.70 46.91,281.23 43.20,283.76 43.20,281.85 47.07,279.36 48.88,279.36 48.88,294.70"/>
<text x="41.30" y="334.60">2</text><rect x="28.39" y="327.90" width="12.60" height="1.5"/>
<text x="41.30" y="372.20">3</text><rect x="28.39" y="365.50" width="12.60" height="1.5"/>
<text x="41.30" y="451.80">5</text>
<text x="41.30" y="492.00">4</text>
<text x="41.30" y="533.70">3</text>
<text x="41.30" y="575.00">3</text>
<polygon points="46.91,615.60 46.91,602.13 43.20,604.66 43.20,602.75 47.07,600.26 48.88,600.26 48.88,615.60"/>
<text x="41.30" y="655.80">0</text>
<rect x="28.39" y="693.40" width="12.60" height="1.5"/><polygon points="46.91,700.10 46.91,686.63 43.20,689.16 43.20,687.25 47.07,684.76 48.88,684.76 48.88,700.10"/>
<text x="41.30" y="739.70">2</text><rect x="28.39" y="733.00" width="12.60" height="1.5"/>
<text x="41.30" y="777.80">3</text><rect x="28.39" y="771.10" width="12.60" height="1.5"/>
<text x="61.30" y="398.80">0</text>
<text x="164.91 176.71 183.54" y="398.80">0·2</text>
<text x="276.88 288.68 295.50" y="398.80">0·4</text>
<text x="389.34 401.14 407.97" y="398.80">0·6</text>
<text x="501.03 512.84 519.66" y="398.80">0·8</text>
<polygon points="625.27,398.80 625.27,385.33 621.56,387.86 621.56,385.95 625.43,383.46 627.24,383.46 627.24,398.80"/>
<text x="49.06 60.86 67.69" y="804.50">0·0</text><polygon points="85.70,804.50 85.70,791.03 82.00,793.56 82.00,791.65 85.86,789.16 87.67,789.16 87.67,804.50"/>
<text x="148.46 160.26" y="804.50">0·</text><polygon points="172.70,804.50 172.70,791.03 168.99,793.56 168.99,791.65 172.86,789.16 174.67,789.16 174.67,804.50"/>
<polygon points="255.27,804.50 255.27,791.03 251.56,793.56 251.56,791.65 255.43,789.16 257.24,789.16 257.24,804.50"/>
<text x="348.58" y="804.50">0</text><polygon points="341.79,804.50 341.79,791.03 338.09,793.56 338.09,791.65 341.95,789.16 343.76,789.16 343.76,804.50"/>
<text x="437.98 450.38" y="804.50">00</text><polygon points="431.19,804.50 431.19,791.03 427.49,793.56 427.49,791.65 431.35,789.16 433.16,789.16 433.16,804.50"/>
<text x="518.58 530.98 543.38" y="804.50">000</text><polygon points="511.79,804.50 511.79,791.03 508.08,793.56 508.08,791.65 511.95,789.16 513.76,789.16 513.76,804.50"/>
<text x="608.43 624.53 636.93 649.34" y="804.50">0000</text><polygon points="601.63,804.50 601.63,791.03 597.93,793.56 597.93,791.65 601.80,789.16 603.61,789.16 603.61,804.50"/>
<text x="350" y="430.8" text-anchor="middle">Mean E:S</text>
<text x="349.5" y="835.8" text-anchor="middle">Mean seed mass (mg)</text>
<text transform="translate(19.3,203.2) rotate(-90)" text-anchor="middle">Net relatedness index</text>
<text transform="translate(19.3,607.4) rotate(-90)" text-anchor="middle">Net relatedness index</text>
<text x="82.6" y="56.9" style="font-size:27.5px">A</text>
<text x="83.2" y="466.8" style="font-size:27.5px">B</text>
</g>
<g>
<rect x="190.5" y="0.5" width="245.2" height="73.6" fill="#fff" stroke="#1a1a1a" stroke-width="1.5"/>
<circle cx="197.6" cy="8.3" r="3.4" fill="none" stroke="#97a9d6" stroke-width="1.1"/>
<path d="M197.8,27.9 L200.7,33.0 H194.9 Z" fill="none" stroke="#7d9a45" stroke-width="1.1"/>
<rect x="194.3" y="49.2" width="7.1" height="7.3" fill="none" stroke="#ad5a70" stroke-width="1.2"/>
<g class="lg"><text x="207.5" y="21.8">Slacks</text>
<text x="207.5" y="43">Calcareous grasslands</text>
<text x="207.5" y="63.6">Temperate forests</text></g>
</g>
</svg>
</body></html>
